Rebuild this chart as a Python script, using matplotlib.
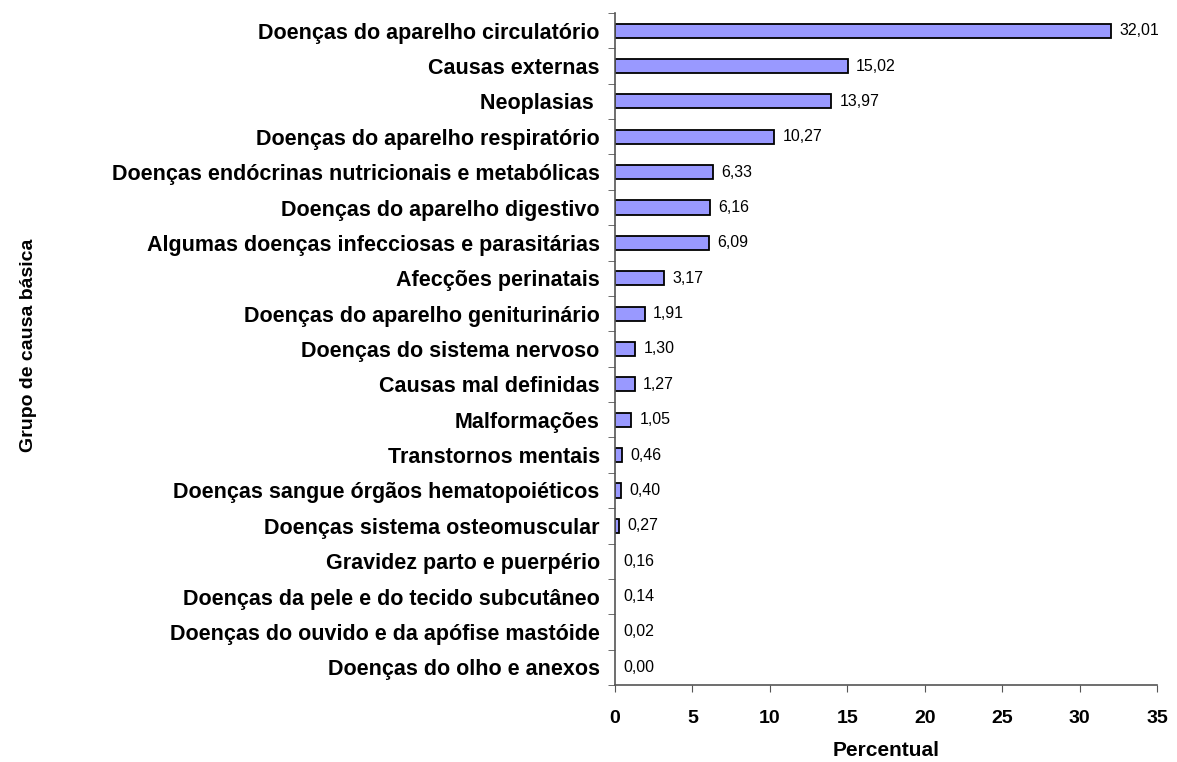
import matplotlib
matplotlib.use('Agg')
import matplotlib.pyplot as plt
import numpy as np

categories = [
    'Doenças do aparelho circulatório',
    'Causas externas',
    'Neoplasias ',
    'Doenças do aparelho respiratório',
    'Doenças endócrinas nutricionais e metabólicas',
    'Doenças do aparelho digestivo',
    'Algumas doenças infecciosas e parasitárias',
    'Afecções perinatais',
    'Doenças do aparelho geniturinário',
    'Doenças do sistema nervoso',
    'Causas mal definidas',
    'Malformações',
    'Transtornos mentais',
    'Doenças sangue órgãos hematopoiéticos',
    'Doenças sistema osteomuscular',
    'Gravidez parto e puerpério',
    'Doenças da pele e do tecido subcutâneo',
    'Doenças do ouvido e da apófise mastóide',
    'Doenças do olho e anexos',
]
values = [32.01, 15.02, 13.97, 10.27, 6.33, 6.16, 6.09, 3.17, 1.91, 1.30,
          1.27, 1.05, 0.46, 0.40, 0.27, 0.16, 0.14, 0.02, 0.00]
xticks = [0, 5, 10, 15, 20, 25, 30, 35]

plt.rcParams['font.family'] = ['Liberation Sans', 'DejaVu Sans']

fig = plt.figure(figsize=(11.77, 7.62), dpi=100)
ax = fig.add_axes([0.5225, 0.101, 0.4605, 0.882])

n = len(categories)
pos = np.arange(n)[::-1]
# very small bars are not visible in the original
visible = [v >= 0.2 for v in values]
ax.barh(pos, values, height=0.4,
        color=['#9999FF' if s else 'none' for s in visible],
        edgecolor=['black' if s else 'none' for s in visible], linewidth=1.3)

for p, v, s in zip(pos, values, visible):
    x0 = v if s else 0
    ax.annotate(f'{v:.2f}'.replace('.', ','), (x0, p), xytext=(6, 0),
                textcoords='offset points', va='center', ha='left', fontsize=11.5)

ax.set_xlim(0, 35)
ax.set_ylim(-0.5, n - 0.5)
ax.set_xticks(xticks)
ax.set_xticklabels([str(t) for t in xticks], fontsize=14, fontweight='bold')
ax.set_yticks(pos)
ax.set_yticklabels(categories, fontsize=15.5, fontweight='bold')
ax.set_yticks(np.arange(n + 1) - 0.5, minor=True)
ax.tick_params(axis='y', which='major', length=0, pad=11)
ax.tick_params(axis='y', which='minor', length=5, color='#555555', direction='out')
ax.tick_params(axis='x', length=5, color='#555555', pad=13)

for s in ['top', 'right']:
    ax.spines[s].set_visible(False)
for s in ['left', 'bottom']:
    ax.spines[s].set_color('#555555')
    ax.spines[s].set_linewidth(1.2)

ax.set_xlabel('Percentual', fontsize=15, fontweight='bold', labelpad=10)
fig.text(0.024, 0.547, 'Grupo de causa básica', rotation=90, fontsize=14,
         fontweight='bold', va='center', ha='center')

fig.savefig('out.png', dpi=100)
